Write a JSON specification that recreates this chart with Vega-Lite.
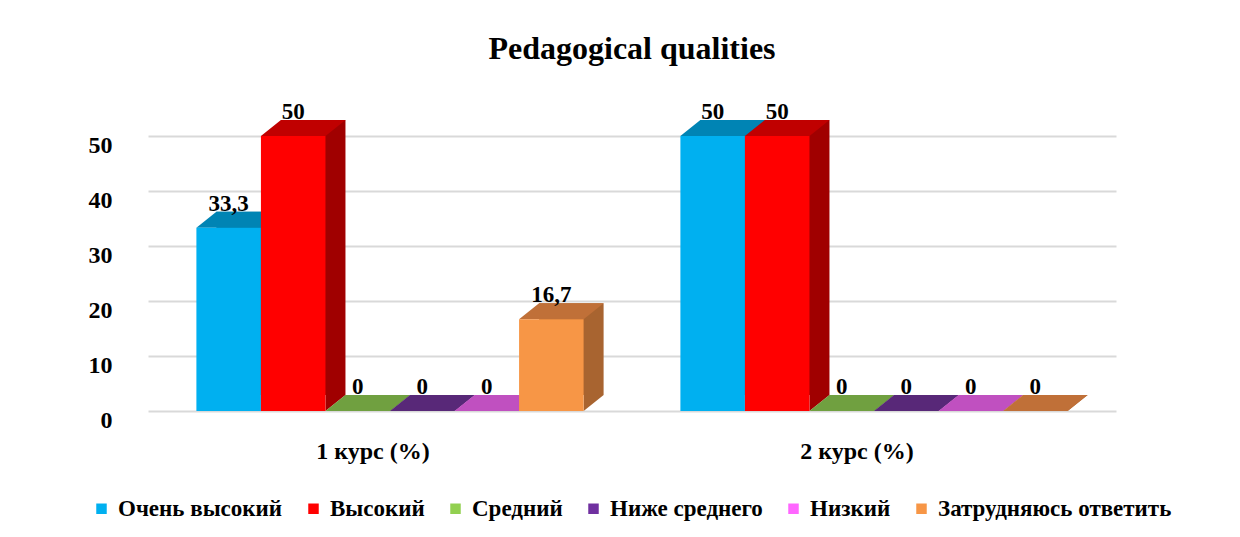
{
  "$schema": "https://vega.github.io/schema/vega-lite/v6.json",
  "width": 968,
  "height": 275,
  "autosize": "none",
  "padding": {"left": 148, "top": 136, "right": 124, "bottom": 126},
  "background": "white",
  "title": {
    "text": "Pedagogical qualities",
    "font": "Liberation Serif",
    "fontSize": 32,
    "fontWeight": "bold",
    "color": "black",
    "anchor": "middle",
    "offset": 35
  },
  "config": {
    "view": {"stroke": null},
    "font": "Liberation Serif"
  },
  "data": {
    "values": [
      {"course": "1 курс (%)", "level": "Очень высокий", "value": 33.3, "label": "33,3"},
      {"course": "1 курс (%)", "level": "Высокий", "value": 50, "label": "50"},
      {"course": "1 курс (%)", "level": "Средний", "value": 0, "label": "0"},
      {"course": "1 курс (%)", "level": "Ниже среднего", "value": 0, "label": "0"},
      {"course": "1 курс (%)", "level": "Низкий", "value": 0, "label": "0"},
      {"course": "1 курс (%)", "level": "Затрудняюсь ответить", "value": 16.7, "label": "16,7"},
      {"course": "2 курс (%)", "level": "Очень высокий", "value": 50, "label": "50"},
      {"course": "2 курс (%)", "level": "Высокий", "value": 50, "label": "50"},
      {"course": "2 курс (%)", "level": "Средний", "value": 0, "label": "0"},
      {"course": "2 курс (%)", "level": "Ниже среднего", "value": 0, "label": "0"},
      {"course": "2 курс (%)", "level": "Низкий", "value": 0, "label": "0"},
      {"course": "2 курс (%)", "level": "Затрудняюсь ответить", "value": 0, "label": "0"}
    ]
  },
  "encoding": {
    "x": {
      "field": "course",
      "type": "nominal",
      "sort": null,
      "scale": {"paddingInner": 0.2, "paddingOuter": 0.1},
      "axis": {
        "title": null,
        "labelAngle": 0,
        "domain": false,
        "ticks": false,
        "labelPadding": 28,
        "labelFont": "Liberation Serif",
        "labelFontSize": 24,
        "labelFontWeight": "bold",
        "labelColor": "black",
        "labelOffset": -17
      }
    },
    "y": {
      "field": "value",
      "type": "quantitative",
      "scale": {"domain": [0, 50], "nice": false},
      "axis": {
        "title": null,
        "values": [0, 10, 20, 30, 40, 50],
        "domain": false,
        "ticks": false,
        "labelPadding": 36,
        "labelFont": "Liberation Serif",
        "labelFontSize": 24,
        "labelFontWeight": "bold",
        "labelColor": "black",
        "labelOffset": 9,
        "gridColor": "#D9D9D9",
        "gridWidth": 2
      }
    }
  },
  "layer": [
    {
      "mark": {"type": "bar", "yOffset": -16},
      "encoding": {
        "xOffset": {
          "field": "level",
          "type": "nominal",
          "sort": ["Очень высокий", "Высокий", "Средний", "Ниже среднего", "Низкий", "Затрудняюсь ответить"],
          "scale": {"range": [20, 407.2], "paddingInner": 0, "paddingOuter": 0}
        },
        "color": {
          "field": "level",
          "type": "nominal",
          "scale": {
            "domain": ["Очень высокий", "Высокий", "Средний", "Ниже среднего", "Низкий", "Затрудняюсь ответить"],
            "range": ["#0073A0", "#A00000", "#5A8530", "#442066", "#A040A0", "#A86430"]
          },
          "legend": null
        }
      }
    },
    {
      "mark": {"type": "point", "filled": true, "opacity": 1, "size": 4, "strokeWidth": 0, "shape": "M32.27,0L32.27,-16L52.27,-16Z"},
      "encoding": {
        "y": {"datum": 0},
        "xOffset": {
          "field": "level",
          "type": "nominal",
          "sort": ["Очень высокий", "Высокий", "Средний", "Ниже среднего", "Низкий", "Затрудняюсь ответить"]
        },
        "color": {
          "field": "level",
          "type": "nominal",
          "scale": {
            "domain": ["Очень высокий", "Высокий", "Средний", "Ниже среднего", "Низкий", "Затрудняюсь ответить"],
            "range": ["#0073A0", "#A00000", "#5A8530", "#442066", "#A040A0", "#A86430"]
          },
          "legend": null
        }
      }
    },
    {
      "mark": {"type": "point", "filled": true, "opacity": 1, "size": 4, "strokeWidth": 0, "shape": "M-32.27,0L-12.27,-16L52.27,-16L32.27,0Z"},
      "encoding": {
        "xOffset": {
          "field": "level",
          "type": "nominal",
          "sort": ["Очень высокий", "Высокий", "Средний", "Ниже среднего", "Низкий", "Затрудняюсь ответить"]
        },
        "color": {
          "field": "level",
          "type": "nominal",
          "scale": {
            "domain": ["Очень высокий", "Высокий", "Средний", "Ниже среднего", "Низкий", "Затрудняюсь ответить"],
            "range": ["#0084B4", "#C00000", "#70A040", "#582878", "#C050C0", "#C07038"]
          },
          "legend": null
        }
      }
    },
    {
      "mark": {"type": "bar"},
      "encoding": {
        "xOffset": {
          "field": "level",
          "type": "nominal",
          "sort": ["Очень высокий", "Высокий", "Средний", "Ниже среднего", "Низкий", "Затрудняюсь ответить"]
        },
        "color": {
          "field": "level",
          "type": "nominal",
          "scale": {
            "domain": ["Очень высокий", "Высокий", "Средний", "Ниже среднего", "Низкий", "Затрудняюсь ответить"],
            "range": ["#00B0F0", "#FF0000", "#92D050", "#7030A0", "#FF66FF", "#F79646"]
          },
          "legend": {
            "title": null,
            "orient": "none",
            "direction": "horizontal",
            "legendX": -58,
            "legendY": 361,
            "symbolType": "square",
            "symbolSize": 110,
            "symbolStrokeWidth": 0,
            "labelFont": "Liberation Serif",
            "labelFontSize": 23,
            "labelFontWeight": "bold",
            "labelColor": "black",
            "labelLimit": 400,
            "columnPadding": 19,
            "labelOffset": 5
          }
        }
      }
    },
    {
      "mark": {
        "type": "text",
        "font": "Liberation Serif",
        "fontSize": 23,
        "fontWeight": "bold",
        "color": "black",
        "baseline": "alphabetic",
        "dy": -17
      },
      "encoding": {
        "xOffset": {
          "field": "level",
          "type": "nominal",
          "sort": ["Очень высокий", "Высокий", "Средний", "Ниже среднего", "Низкий", "Затрудняюсь ответить"]
        },
        "text": {"field": "label"}
      }
    }
  ],
  "resolve": {"scale": {"color": "independent", "xOffset": "independent"}}
}
